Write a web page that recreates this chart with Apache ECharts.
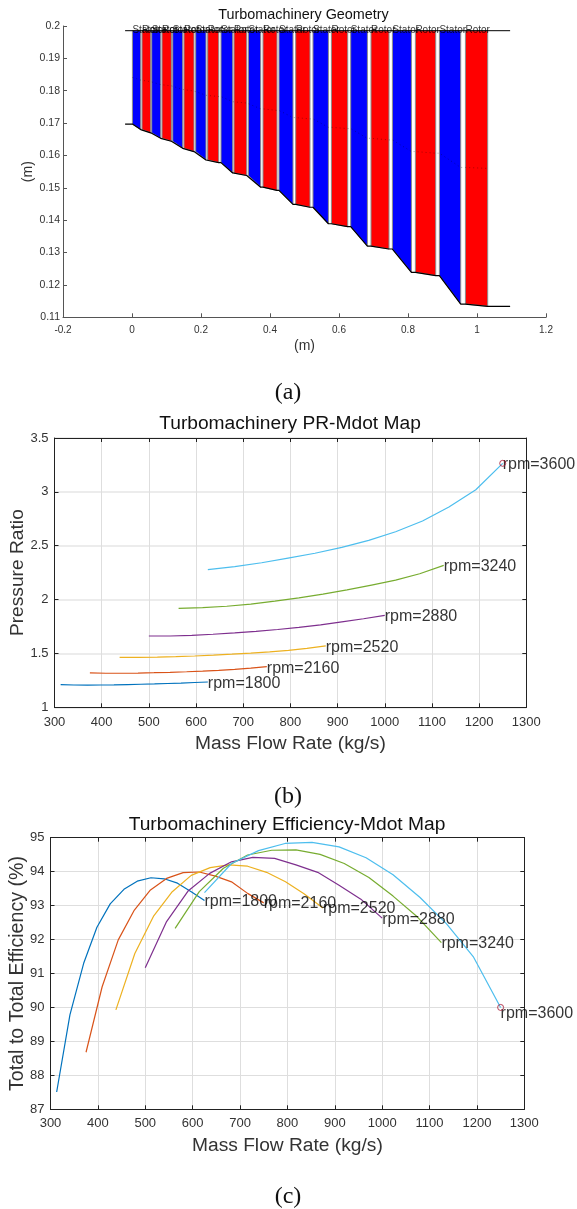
<!DOCTYPE html>
<html><head><meta charset="utf-8">
<style>html,body{margin:0;padding:0;background:#fff}#c{width:577px;height:1209px}</style>
<script src="https://cdn.jsdelivr.net/npm/echarts@6/dist/echarts.min.js"></script>
</head><body><div id="c"></div>
<script>
const bladeNames=['Stator','Rotor','Stator','Rotor','Stator','Rotor','Stator','Rotor','Stator','Rotor','Stator','Rotor','Stator','Rotor','Stator','Rotor','Stator','Rotor','Stator','Rotor','Stator','Rotor'];
const bladeStart=[.0012,.0290,.0571,.0870,.1180,.1507,.1846,.2194,.2580,.2957,.3374,.3797,.4261,.4745,.5246,.5780,.6339,.6928,.7548,.8214,.8910,.9664];
const bladeEnd=[.0252,.0542,.0832,.1142,.1470,.1797,.2145,.2513,.2919,.3325,.3730,.4203,.4667,.5159,.5693,.6252,.6823,.7449,.8099,.8803,.9528,1.0310];
const hubIn=[.1697,.1680,.1670,.1653,.1644,.1622,.1612,.1586,.1578,.1546,.1538,.1502,.1492,.1449,.1440,.1389,.1380,.1320,.1311,.1239,.1229,.1141];
const hubOut=[.1680,.1670,.1653,.1644,.1622,.1612,.1586,.1578,.1546,.1538,.1502,.1492,.1449,.1440,.1389,.1380,.1320,.1311,.1239,.1229,.1141,.1134];
const meanIn=[.1841,.1833,.1828,.1819,.1815,.1804,.1799,.1786,.1782,.1766,.1762,.1744,.1739,.1717,.1713,.1687,.1683,.1653,.1648,.1612,.1607,.1563];
const meanOut=[.1833,.1828,.1819,.1815,.1804,.1799,.1786,.1782,.1766,.1762,.1744,.1739,.1717,.1713,.1687,.1683,.1653,.1648,.1612,.1607,.1563,.1560];
const tipRadius=.19855, ductStart=-.02, ductEnd=1.096;

const rpmNames=['rpm=1800','rpm=2160','rpm=2520','rpm=2880','rpm=3240','rpm=3600'];
const mdot1800=[313,341,370,398,426,455,483,512,540,568,597,625];
const mdot2160=[375,409,443,477,511,545,580,614,648,682,716,750];
const mdot2520=[438,478,518,557,597,637,676,716,756,796,835,875];
const mdot2880=[500,545,591,636,682,727,773,818,864,909,955,1000];
const mdot3240=[563,614,665,716,767,818,869,920,972,1023,1074,1125];
const mdot3600=[625,682,739,795,852,909,966,1023,1080,1136,1193,1250];
const pr1800=[1.21,1.207,1.206,1.207,1.208,1.211,1.214,1.217,1.221,1.225,1.230,1.235];
const pr2160=[1.32,1.316,1.316,1.318,1.321,1.325,1.330,1.336,1.343,1.352,1.363,1.377];
const pr2520=[1.464,1.463,1.465,1.47,1.476,1.484,1.493,1.503,1.515,1.528,1.547,1.57];
const pr2880=[1.662,1.662,1.668,1.678,1.69,1.705,1.722,1.742,1.765,1.793,1.822,1.854];
const pr3240=[1.919,1.925,1.938,1.958,1.985,2.015,2.05,2.09,2.135,2.18,2.24,2.318];
const pr3600=[2.278,2.306,2.342,2.385,2.43,2.485,2.55,2.63,2.73,2.86,3.02,3.265];
const eff1800=[87.51,89.78,91.30,92.36,93.05,93.48,93.72,93.82,93.79,93.66,93.41,93.15];
const eff2160=[88.68,90.61,91.99,92.87,93.46,93.80,93.97,93.99,93.87,93.70,93.36,93.08];
const eff2520=[89.93,91.59,92.70,93.41,93.89,94.12,94.20,94.16,93.98,93.70,93.35,92.93];
const eff2880=[91.17,92.53,93.44,93.95,94.29,94.42,94.39,94.20,93.98,93.6,93.19,92.63];
const eff3240=[92.33,93.41,94.10,94.49,94.63,94.64,94.51,94.24,93.83,93.28,92.67,91.91];
const eff3600=[93.38,94.24,94.62,94.83,94.86,94.73,94.41,93.91,93.24,92.46,91.48,90.0];
const mapColors=['#0072BD','#D95319','#EDB120','#7E2F8E','#77AC30','#4DBEEE'];
const mdots=[mdot1800,mdot2160,mdot2520,mdot2880,mdot3240,mdot3600];
const prs=[pr1800,pr2160,pr2520,pr2880,pr3240,pr3600];
const effs=[eff1800,eff2160,eff2520,eff2880,eff3240,eff3600];

const sans='"Liberation Sans",Arial,sans-serif', serif='"Liberation Serif","Times New Roman",serif';
const axisInk='#333333';
function pxGrid(l,r,t,b){return {left:l,top:t,width:r-l,height:b-t,containLabel:false,outerBoundsMode:'none',show:false};}
function valAxis(kind,gridIndex,opt){
  const primary=!opt.mirror;
  const a={type:'value',gridIndex,min:opt.min,max:opt.max,interval:opt.interval,
    position:kind==='x'?(primary?'bottom':'top'):(primary?'left':'right'),
    axisLine:{show:true,onZero:false,lineStyle:{color:opt.line||'#222',width:1}},
    axisTick:{show:true,inside:true,length:4,lineStyle:{color:opt.line||'#222',width:1}},
    axisLabel:{show:primary,color:axisInk,fontFamily:sans,fontSize:opt.font,margin:opt.margin||6,showMinLabel:true,showMaxLabel:true,hideOverlap:false,formatter:v=>String(+v.toFixed(2))},
    splitLine:{show:primary&&!!opt.split,lineStyle:opt.split||{}}};
  if(primary&&opt.name){Object.assign(a,{name:opt.name,nameLocation:'middle',nameGap:opt.gap,nameMoveOverlap:false,
    nameTextStyle:{color:axisInk,fontFamily:sans,fontSize:opt.nameFont}});}
  return a;
}
function capt(text,x,y,size,family,color){return {text,left:x,top:y,padding:0,textAlign:'center',textVerticalAlign:'middle',
  textStyle:{fontFamily:family,fontSize:size,fontWeight:'normal',color}};}

const series=[];
series.push({type:'custom',xAxisIndex:0,yAxisIndex:0,silent:true,clip:false,z:2,
  data:bladeStart.map((s,i)=>[s,bladeEnd[i],hubIn[i],hubOut[i],i]),
  encode:{x:[0,1],y:[2,3]},
  renderItem(p,api){
    const x0=api.value(0),x1=api.value(1),h0=api.value(2),h1=api.value(3),idx=api.value(4);
    const pts=[api.coord([x0,tipRadius]),api.coord([x1,tipRadius]),api.coord([x1,h1]),api.coord([x0,h0])];
    return {type:'polygon',shape:{points:pts},style:{fill:idx%2?'#FF0000':'#0000FF',stroke:'#8c8c8c',lineWidth:1}};
  }});
const hubLine=[[ductStart,hubIn[0]]],meanLine=[];
bladeStart.forEach((s,i)=>{hubLine.push([s,hubIn[i]],[bladeEnd[i],hubOut[i]]);meanLine.push([s,meanIn[i]],[bladeEnd[i],meanOut[i]]);});
hubLine.push([ductEnd,hubOut[21]]);
series.push({type:'line',xAxisIndex:0,yAxisIndex:0,data:hubLine,symbol:'none',silent:true,z:3,lineStyle:{color:'#000',width:1.2}});
series.push({type:'line',xAxisIndex:0,yAxisIndex:0,data:[[ductStart,tipRadius],[ductEnd,tipRadius]],symbol:'none',silent:true,z:3,lineStyle:{color:'#000',width:1}});
series.push({type:'line',xAxisIndex:0,yAxisIndex:0,data:meanLine,symbol:'none',silent:true,z:3,lineStyle:{color:'rgba(0,0,0,.55)',width:.6,type:[1,3]}});
series.push({type:'scatter',xAxisIndex:0,yAxisIndex:0,symbolSize:0,silent:true,z:4,
  data:bladeStart.map((s,i)=>({value:[s,tipRadius],name:bladeNames[i]})),
  label:{show:true,position:'right',distance:0,formatter:'{b}',fontFamily:sans,fontSize:10,color:'#000'}});
function addMap(xi,yi,ys,ptOffsets,fontSize){
  ys.forEach((v,k)=>{
    series.push({type:'line',xAxisIndex:xi,yAxisIndex:yi,symbol:'none',silent:true,z:3,
      data:mdots[k].map((m,i)=>[m,v[i]]),lineStyle:{color:mapColors[k],width:1.2}});
    series.push({type:'scatter',xAxisIndex:xi,yAxisIndex:yi,symbolSize:0,silent:true,z:5,
      data:[{value:[mdots[k][11],v[11]],name:rpmNames[k]}],
      label:{show:true,position:'right',distance:0,offset:[0,ptOffsets[k]],formatter:'{b}',fontFamily:sans,fontSize,color:'#000'}});
  });
  series.push({type:'scatter',xAxisIndex:xi,yAxisIndex:yi,silent:true,z:6,symbol:'circle',symbolSize:6,
    data:[[mdots[5][11],ys[5][11]]],itemStyle:{color:'rgba(0,0,0,0)',borderColor:'#A2142F',borderWidth:1}});
}
addMap(1,1,prs,[1.5,1.5,1.5,1.5,1.5,1.5],16);
addMap(3,3,effs,[1,1,1,1,1,6],16);

const gridB={v:{color:'#dedede',width:1},h:{color:'#ececec',width:2}};
const gridC={color:'#dedede',width:1};
const option={animation:false,backgroundColor:'#fff',
  title:[
    capt('Turbomachinery Geometry',303.5,15,14.4,sans,'#111'),
    capt('(a)',288,393,24,serif,'#111'),
    capt('Turbomachinery PR-Mdot Map',290,424,19.2,sans,'#111'),
    capt('(b)',288,797,24,serif,'#111'),
    capt('Turbomachinery Efficiency-Mdot Map',287,824.5,19.2,sans,'#111'),
    capt('(c)',288,1197,24,serif,'#111')
  ],
  grid:[pxGrid(63,546,26,317.3),pxGrid(54.5,526.3,438,707.3),pxGrid(50.5,524.3,837.7,1109.3)],
  xAxis:[
    valAxis('x',0,{min:-.2,max:1.2,interval:.2,font:10,margin:8,line:'#555',name:'(m)',gap:22,nameFont:14}),
    valAxis('x',1,{min:300,max:1300,interval:100,font:13,margin:9,name:'Mass Flow Rate (kg/s)',gap:27,nameFont:19.2,split:gridB.v}),
    valAxis('x',1,{min:300,max:1300,interval:100,font:13,mirror:true}),
    valAxis('x',2,{min:300,max:1300,interval:100,font:13,margin:8,name:'Mass Flow Rate (kg/s)',gap:27,nameFont:19.2,split:gridC}),
    valAxis('x',2,{min:300,max:1300,interval:100,font:13,mirror:true})
  ],
  yAxis:[
    valAxis('y',0,{min:.11,max:.2,interval:.01,font:10.5,margin:3,line:'#555',name:'(m)',gap:28,nameFont:14}),
    valAxis('y',1,{min:1,max:3.5,interval:.5,font:13,name:'Pressure Ratio',gap:27,nameFont:19.2,split:gridB.h}),
    valAxis('y',1,{min:1,max:3.5,interval:.5,font:13,mirror:true}),
    valAxis('y',2,{min:87,max:95,interval:1,font:13,name:'Total to Total Efficiency (%)',gap:23,nameFont:19.6,split:gridC}),
    valAxis('y',2,{min:87,max:95,interval:1,font:13,mirror:true})
  ],
  series
};
echarts.init(document.getElementById('c'),null,{renderer:'canvas'}).setOption(option);
</script></body></html>
